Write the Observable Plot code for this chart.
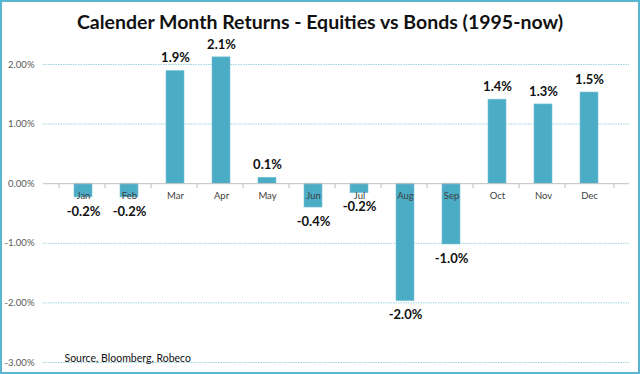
<!DOCTYPE html>
<html>
<head>
<meta charset="utf-8">
<script src="https://cdn.jsdelivr.net/npm/d3@7"></script>
<script src="https://cdn.jsdelivr.net/npm/@observablehq/plot@0.6"></script>
<style>
  html, body { margin: 0; padding: 0; background: #fff; }
  #wrap { position: relative; width: 640px; height: 374px; overflow: hidden; font-family: Lato, "Open Sans", sans-serif; }
  #border { position: absolute; left: 0; top: 0; width: 640px; height: 374px; box-sizing: border-box; border: 2px solid #5bb7cf; pointer-events: none; }
  #title { position: absolute; left: 0; width: 640px; top: 10px; text-align: center; font-weight: 700; font-size: 19.5px; color: #111; }
  #chart { position: absolute; left: 0; top: 0; }
</style>
</head>
<body>
<div id="wrap">
  <div id="chart"></div>
  <div id="title">Calender Month Returns - Equities vs Bonds (1995-now)</div>
  <div id="border"></div>
</div>
<script>
const months = ["Jan","Feb","Mar","Apr","May","Jun","Jul","Aug","Sep","Oct","Nov","Dec"];
const returns = [-0.23, -0.23, 1.89, 2.12, 0.10, -0.40, -0.16, -1.97, -1.02, 1.41, 1.33, 1.53];
const yTicks = [-3, -2, -1, 0, 1, 2];
const source = "Source, Bloomberg, Robeco";

const data = months.map((m, i) => ({month: m, value: returns[i]}));
const fmtVal = v => v.toFixed(1) + "%";
const fmtTick = v => v.toFixed(2) + "%";

const W = 640, H = 374, mL = 43, mR = 11, mT = 64, mB = 12;
const step = (W - mL - mR) / months.length;
const pxPerUnit = (H - mT - mB) / 5;
const tickLen = 5 / pxPerUnit;

const chart = Plot.plot({
  width: W, height: H,
  marginLeft: mL, marginRight: mR, marginTop: mT, marginBottom: mB,
  style: {fontFamily: "Lato, 'Open Sans', sans-serif", background: "transparent", overflow: "visible"},
  x: {type: "band", domain: months, padding: 0.61, axis: null},
  y: {domain: [-3, 2], axis: null, clamp: false},
  marks: [
    Plot.gridY(yTicks.filter(t => t !== 0), {stroke: "#9fd3e0", strokeOpacity: 1, strokeDasharray: "1.5,1"}),
    Plot.axisY(yTicks, {tickFormat: fmtTick, tickSize: 0, tickPadding: 9, fontSize: 9.5, fill: "#595959", anchor: "left", label: null}),
    Plot.barY(data, {x: "month", y: "value", fill: "#4bacc6", stroke: "#7cc4d8", strokeWidth: 0.6}),
    Plot.ruleY([0], {stroke: "#bfbfbf", strokeWidth: 1}),
    Plot.ruleX(months, {x: d => d, y1: 0, y2: -tickLen, dx: -step / 2, stroke: "#bfbfbf"}),
    Plot.ruleX(months.slice(-1), {x: d => d, y1: 0, y2: -tickLen, dx: step / 2, stroke: "#bfbfbf"}),
    Plot.text(data, {x: "month", y: 0, text: "month", dy: 12, fontSize: 9.5, fill: "#404040"}),
    Plot.text(data.filter(d => d.value >= 0), {x: "month", y: "value", text: d => fmtVal(d.value), dy: -13, fontSize: 13, fontWeight: "bold", fill: "#111"}),
    Plot.text(data.filter(d => d.value < 0), {x: "month", y: "value", text: d => fmtVal(d.value), dy: 14, fontSize: 13, fontWeight: "bold", fill: "#111"}),
    Plot.text([source], {frameAnchor: "bottom-left", text: d => d, textAnchor: "start", lineAnchor: "bottom", dx: 21, dy: -1, fontSize: 10.5, fill: "#111"})
  ]
});
document.getElementById("chart").appendChild(chart);
</script>
</body>
</html>
